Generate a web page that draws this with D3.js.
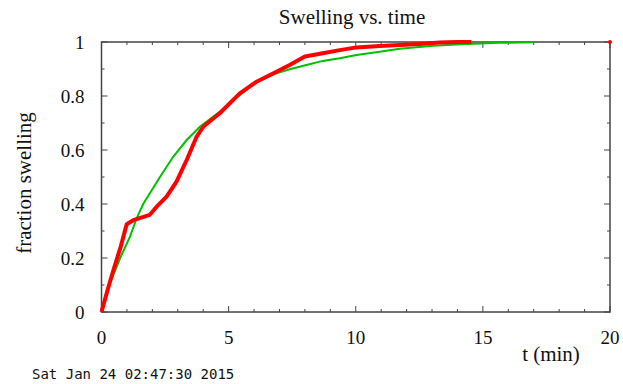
<!DOCTYPE html>
<html>
<head>
<meta charset="utf-8">
<script src="https://cdn.jsdelivr.net/npm/d3@7"></script>
<style>
  body { margin: 0; background: #fff; }
  text { font-family: "Liberation Serif", serif; fill: #111; }
  text.stamp { font-family: "DejaVu Sans Mono", monospace; }
</style>
</head>
<body>
<div id="chart"></div>
<script>
var width = 623,
    height = 384;

// data
var redT = [0, 0.25, 0.5, 0.75, 0.99, 1.25, 1.9, 2.17, 2.56, 2.95, 3.35, 3.74, 4.0, 4.65, 5.44, 6.1, 6.88, 7.4, 8.0, 8.7, 9.37, 10.03, 10.94, 11.73, 12.5, 13.3, 14.0, 14.55];
var redY = [0, 0.085, 0.165, 0.24, 0.325, 0.34, 0.36, 0.39, 0.427, 0.483, 0.563, 0.649, 0.686, 0.736, 0.81, 0.853, 0.89, 0.915, 0.946, 0.958, 0.97, 0.98, 0.985, 0.989, 0.993, 0.998, 1.0, 1.0];
var greenT = [0, 0.33, 0.73, 1.12, 1.38, 1.64, 2.3, 2.82, 3.35, 3.87, 4.66, 5.2, 6.1, 6.88, 7.4, 8.06, 8.7, 9.37, 10.03, 10.94, 11.73, 13.04, 14.35, 15.66, 17.0];
var greenY = [0, 0.106, 0.199, 0.279, 0.347, 0.40, 0.50, 0.575, 0.637, 0.686, 0.742, 0.785, 0.853, 0.884, 0.899, 0.915, 0.93, 0.94, 0.952, 0.964, 0.975, 0.986, 0.993, 0.997, 0.999];
var endPoint = [20, 1];

var xTicks = [0, 5, 10, 15, 20],
    yTicks = [0, 0.2, 0.4, 0.6, 0.8, 1];

var margin = {left: 101.5, right: 13, top: 42, bottom: 72};

var svg = d3.select("#chart")
  .append("svg")
  .attr("width", width)
  .attr("height", height);

var x = d3.scaleLinear().domain([0, 20]).range([margin.left, width - margin.right]);
var y = d3.scaleLinear().domain([0, 1]).range([height - margin.bottom, margin.top]);

// minor + major ticks, inward, on all four sides
var frame = svg.append("g").attr("stroke", "#444").attr("stroke-width", 1);
d3.range(0, 21, 1).forEach(function(t){
  var len = (t % 5 === 0) ? 6 : 3;
  frame.append("line").attr("x1", x(t)).attr("x2", x(t)).attr("y1", y(0)).attr("y2", y(0) - len);
  frame.append("line").attr("x1", x(t)).attr("x2", x(t)).attr("y1", y(1)).attr("y2", y(1) + len);
});
d3.range(0, 11, 1).forEach(function(i){
  var len = (i % 2 === 0) ? 6 : 3;
  var v = i / 10;
  frame.append("line").attr("x1", x(0)).attr("x2", x(0) + len).attr("y1", y(v)).attr("y2", y(v));
  frame.append("line").attr("x1", x(20)).attr("x2", x(20) - len).attr("y1", y(v)).attr("y2", y(v));
});
svg.append("rect")
  .attr("x", x(0)).attr("y", y(1))
  .attr("width", x(20) - x(0)).attr("height", y(0) - y(1))
  .attr("fill", "none").attr("stroke", "#444").attr("stroke-width", 1.5);

// tick labels
svg.append("g").selectAll("text").data(xTicks).enter().append("text")
  .attr("x", function(d){ return x(d); })
  .attr("y", y(0) + 32)
  .attr("text-anchor", "middle")
  .attr("font-size", 19)
  .text(function(d){ return d; });
svg.append("g").selectAll("text").data(yTicks).enter().append("text")
  .attr("x", x(0) - 17)
  .attr("y", function(d){ return y(d) + 6.5; })
  .attr("text-anchor", "end")
  .attr("font-size", 19)
  .text(function(d){ return d; });

// curves
var line = d3.line()
  .x(function(d){ return x(d[0]); })
  .y(function(d){ return y(d[1]); });

svg.append("path")
  .datum(greenT.map(function(t, i){ return [t, greenY[i]]; }))
  .attr("d", line)
  .attr("fill", "none").attr("stroke", "#00c000").attr("stroke-width", 2);

svg.append("path")
  .datum(redT.map(function(t, i){ return [t, redY[i]]; }))
  .attr("d", line)
  .attr("fill", "none").attr("stroke", "#ff0000").attr("stroke-width", 4)
  .attr("stroke-linejoin", "round");

svg.append("circle")
  .attr("cx", x(endPoint[0])).attr("cy", y(endPoint[1]))
  .attr("r", 2).attr("fill", "#ff0000");

// titles
svg.append("text")
  .attr("x", 352).attr("y", 24)
  .attr("text-anchor", "middle")
  .attr("font-size", 21)
  .text("Swelling vs. time");

svg.append("text")
  .attr("transform", "translate(31," + 183 + ") rotate(-90)")
  .attr("text-anchor", "middle")
  .attr("font-size", 21)
  .text("fraction swelling");

svg.append("text")
  .attr("x", 551).attr("y", 361)
  .attr("text-anchor", "middle")
  .attr("font-size", 21)
  .text("t (min)");

svg.append("text")
  .attr("class", "stamp")
  .attr("x", 32).attr("y", 379)
  .attr("font-size", 14)
  .text("Sat Jan 24 02:47:30 2015");
</script>
</body>
</html>
